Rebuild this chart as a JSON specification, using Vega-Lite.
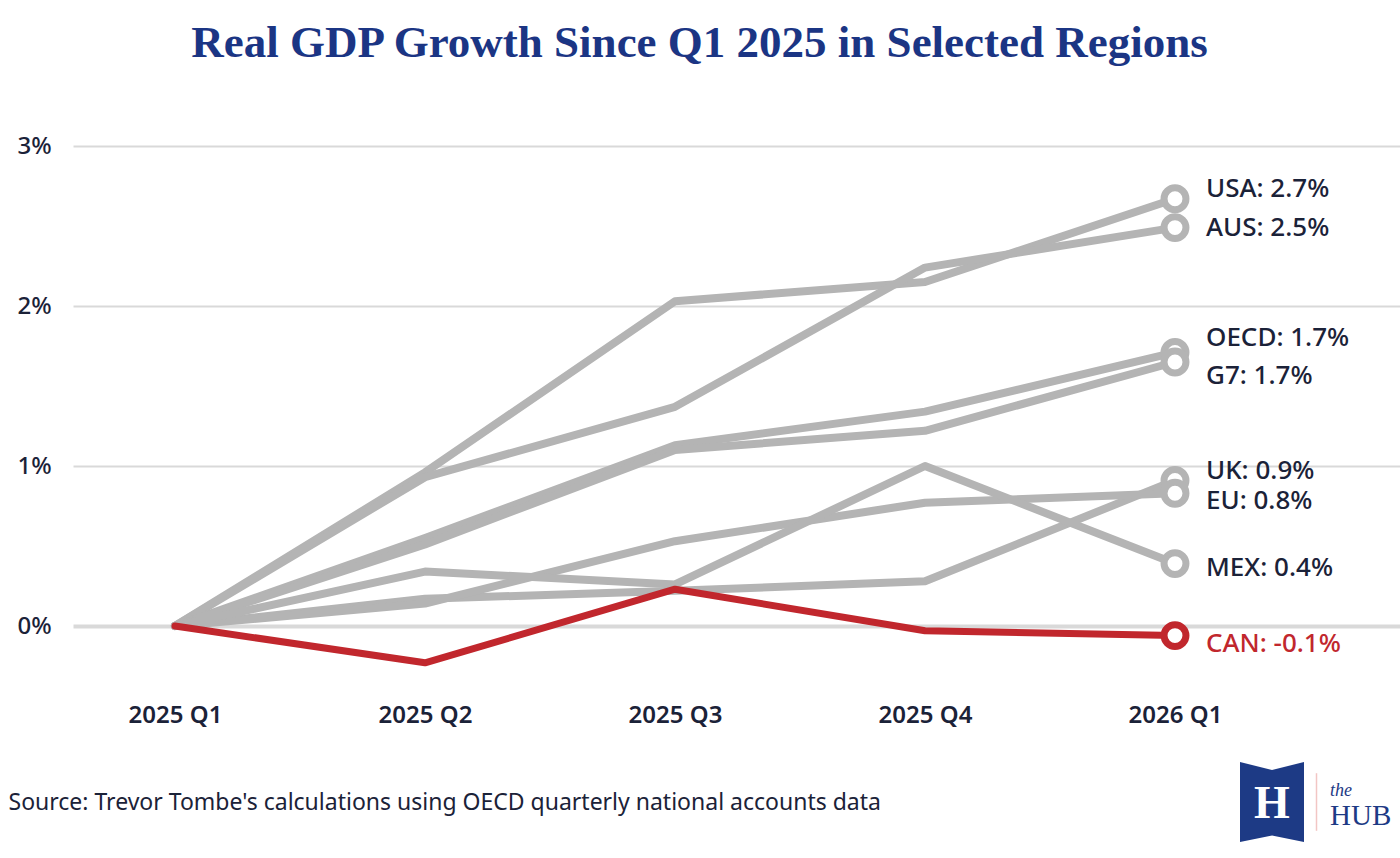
{
  "$schema": "https://vega.github.io/schema/vega-lite/v6.json",
  "width": 1327,
  "height": 576,
  "autosize": {"type": "none"},
  "padding": {"left": 73, "top": 106, "right": 0, "bottom": 176},
  "background": "white",
  "title": {
    "text": "Real GDP Growth Since Q1 2025 in Selected Regions",
    "anchor": "middle",
    "dx": -37,
    "offset": 4,
    "baseline": "alphabetic",
    "font": "Liberation Serif",
    "fontSize": 45,
    "fontWeight": "bold",
    "color": "#1b3584"
  },
  "config": {
    "view": {"stroke": null},
    "font": "Noto Sans"
  },
  "resolve": {"axis": {"x": "independent", "y": "independent"}},
  "datasets": {
    "growth": [
      {"region": "USA", "t": 0, "growth": 0},
      {"region": "USA", "t": 1, "growth": 0.96},
      {"region": "USA", "t": 2, "growth": 2.03},
      {"region": "USA", "t": 3, "growth": 2.15},
      {"region": "USA", "t": 4, "growth": 2.67},
      {"region": "AUS", "t": 0, "growth": 0},
      {"region": "AUS", "t": 1, "growth": 0.93},
      {"region": "AUS", "t": 2, "growth": 1.37},
      {"region": "AUS", "t": 3, "growth": 2.24},
      {"region": "AUS", "t": 4, "growth": 2.49},
      {"region": "OECD", "t": 0, "growth": 0},
      {"region": "OECD", "t": 1, "growth": 0.55},
      {"region": "OECD", "t": 2, "growth": 1.13},
      {"region": "OECD", "t": 3, "growth": 1.34},
      {"region": "OECD", "t": 4, "growth": 1.71},
      {"region": "G7", "t": 0, "growth": 0},
      {"region": "G7", "t": 1, "growth": 0.51},
      {"region": "G7", "t": 2, "growth": 1.10},
      {"region": "G7", "t": 3, "growth": 1.22},
      {"region": "G7", "t": 4, "growth": 1.65},
      {"region": "UK", "t": 0, "growth": 0},
      {"region": "UK", "t": 1, "growth": 0.17},
      {"region": "UK", "t": 2, "growth": 0.22},
      {"region": "UK", "t": 3, "growth": 0.28},
      {"region": "UK", "t": 4, "growth": 0.91},
      {"region": "EU", "t": 0, "growth": 0},
      {"region": "EU", "t": 1, "growth": 0.14},
      {"region": "EU", "t": 2, "growth": 0.53},
      {"region": "EU", "t": 3, "growth": 0.77},
      {"region": "EU", "t": 4, "growth": 0.83},
      {"region": "MEX", "t": 0, "growth": 0},
      {"region": "MEX", "t": 1, "growth": 0.34},
      {"region": "MEX", "t": 2, "growth": 0.26},
      {"region": "MEX", "t": 3, "growth": 1.00},
      {"region": "MEX", "t": 4, "growth": 0.39},
      {"region": "CAN", "t": 0, "growth": 0},
      {"region": "CAN", "t": 1, "growth": -0.23},
      {"region": "CAN", "t": 2, "growth": 0.23},
      {"region": "CAN", "t": 3, "growth": -0.03},
      {"region": "CAN", "t": 4, "growth": -0.06}
    ],
    "labels": [
      {"region": "USA", "label": "USA: 2.7%", "t": 4, "label_pos": 2.73},
      {"region": "AUS", "label": "AUS: 2.5%", "t": 4, "label_pos": 2.49},
      {"region": "OECD", "label": "OECD: 1.7%", "t": 4, "label_pos": 1.80},
      {"region": "G7", "label": "G7: 1.7%", "t": 4, "label_pos": 1.56},
      {"region": "UK", "label": "UK: 0.9%", "t": 4, "label_pos": 0.97},
      {"region": "EU", "label": "EU: 0.8%", "t": 4, "label_pos": 0.78},
      {"region": "MEX", "label": "MEX: 0.4%", "t": 4, "label_pos": 0.36},
      {"region": "CAN", "label": "CAN: -0.1%", "t": 4, "label_pos": -0.11}
    ]
  },
  "layer": [
    {
      "encoding": {
        "x": {
          "field": "t",
          "type": "quantitative",
          "scale": {"domain": [-0.408, 4.9], "nice": false, "zero": false},
          "axis": {
            "values": [0, 1, 2, 3, 4],
            "labelExpr": "['2025 Q1','2025 Q2','2025 Q3','2025 Q4','2026 Q1'][datum.value]",
            "grid": false,
            "domain": false,
            "ticks": false,
            "labelPadding": 21,
            "labelFontSize": 24,
            "labelFontWeight": 600,
            "labelColor": "#1b2238",
            "title": "Source: Trevor Tombe's calculations using OECD quarterly national accounts data",
            "titleAnchor": "start",
            "titleAlign": "left",
            "titleX": -65,
            "titleY": 120,
            "titleBaseline": "middle",
            "titleFontSize": 23,
            "titleFontWeight": "normal",
            "titleColor": "#1b2238"
          }
        },
        "y": {
          "field": "growth",
          "type": "quantitative",
          "scale": {"domain": [-0.35, 3.25], "nice": false, "zero": false},
          "axis": {
            "values": [0, 1, 2, 3],
            "labelExpr": "datum.value + '%'",
            "grid": true,
            "gridColor": "#d9d9d9",
            "gridWidth": {"condition": {"test": "datum.value === 0", "value": 4}, "value": 2},
            "domain": false,
            "ticks": false,
            "labelAlign": "left",
            "labelPadding": 56,
            "labelFontSize": 24,
            "labelFontWeight": 500,
            "labelColor": "#1b2238",
            "title": null
          }
        }
      },
      "layer": [
        {
          "data": {"name": "growth"},
          "transform": [{"filter": "datum.region !== 'CAN'"}],
          "mark": {"type": "line", "color": "#b4b4b4", "strokeWidth": 8, "strokeCap": "round", "strokeJoin": "round"},
          "encoding": {"detail": {"field": "region"}}
        },
        {
          "data": {"name": "growth"},
          "transform": [{"filter": "datum.region !== 'CAN' && datum.t === 4"}],
          "mark": {"type": "point", "shape": "circle", "filled": true, "fill": "white", "stroke": "#b4b4b4", "strokeWidth": 7, "size": 480, "opacity": 1}
        },
        {
          "data": {"name": "growth"},
          "transform": [{"filter": "datum.region === 'CAN'"}],
          "mark": {"type": "line", "color": "#c1272d", "strokeWidth": 7, "strokeCap": "round", "strokeJoin": "round"}
        },
        {
          "data": {"name": "growth"},
          "transform": [{"filter": "datum.region === 'CAN' && datum.t === 4"}],
          "mark": {"type": "point", "shape": "circle", "filled": true, "fill": "white", "stroke": "#c1272d", "strokeWidth": 7, "size": 480, "opacity": 1}
        },
        {
          "data": {"name": "labels"},
          "mark": {"type": "text", "align": "left", "baseline": "middle", "dx": 31, "fontSize": 26, "fontWeight": 500},
          "encoding": {
            "y": {"field": "label_pos", "type": "quantitative"},
            "text": {"field": "label"},
            "color": {
              "condition": {"test": "datum.region === 'CAN'", "value": "#c1272d"},
              "value": "#1b2238"
            }
          }
        }
      ]
    },
    {
      "data": {"values": [{}]},
      "mark": {
        "type": "point",
        "shape": "M-0.8,-1L0,-0.8L0.8,-1L0.8,1L0,0.84L-0.8,1Z",
        "filled": true,
        "color": "#1d3a85",
        "size": 6400,
        "opacity": 1
      },
      "encoding": {"x": {"datum": 4.388, "axis": null}, "y": {"datum": -1.1, "axis": null}}
    },
    {
      "data": {"values": [{}]},
      "mark": {"type": "text", "text": "H", "font": "Liberation Serif", "fontSize": 46, "fontWeight": "bold", "color": "white", "align": "center", "baseline": "middle", "dy": 2},
      "encoding": {"x": {"datum": 4.388, "axis": null}, "y": {"datum": -1.1, "axis": null}}
    },
    {
      "data": {"values": [{}]},
      "mark": {"type": "rule", "color": "#f2c6c4", "strokeWidth": 1.5},
      "encoding": {"x": {"datum": 4.566, "axis": null}, "y": {"datum": -0.92, "axis": null}, "y2": {"datum": -1.28}}
    },
    {
      "data": {"values": [{}]},
      "mark": {"type": "text", "text": "the", "font": "Liberation Serif", "fontSize": 18, "fontStyle": "italic", "color": "#1d3a85", "align": "left", "baseline": "middle"},
      "encoding": {"x": {"datum": 4.62, "axis": null}, "y": {"datum": -1.03, "axis": null}}
    },
    {
      "data": {"values": [{}]},
      "mark": {"type": "text", "text": "HUB", "font": "Liberation Serif", "fontSize": 29, "color": "#1d3a85", "align": "left", "baseline": "middle"},
      "encoding": {"x": {"datum": 4.62, "axis": null}, "y": {"datum": -1.19, "axis": null}}
    }
  ]
}
